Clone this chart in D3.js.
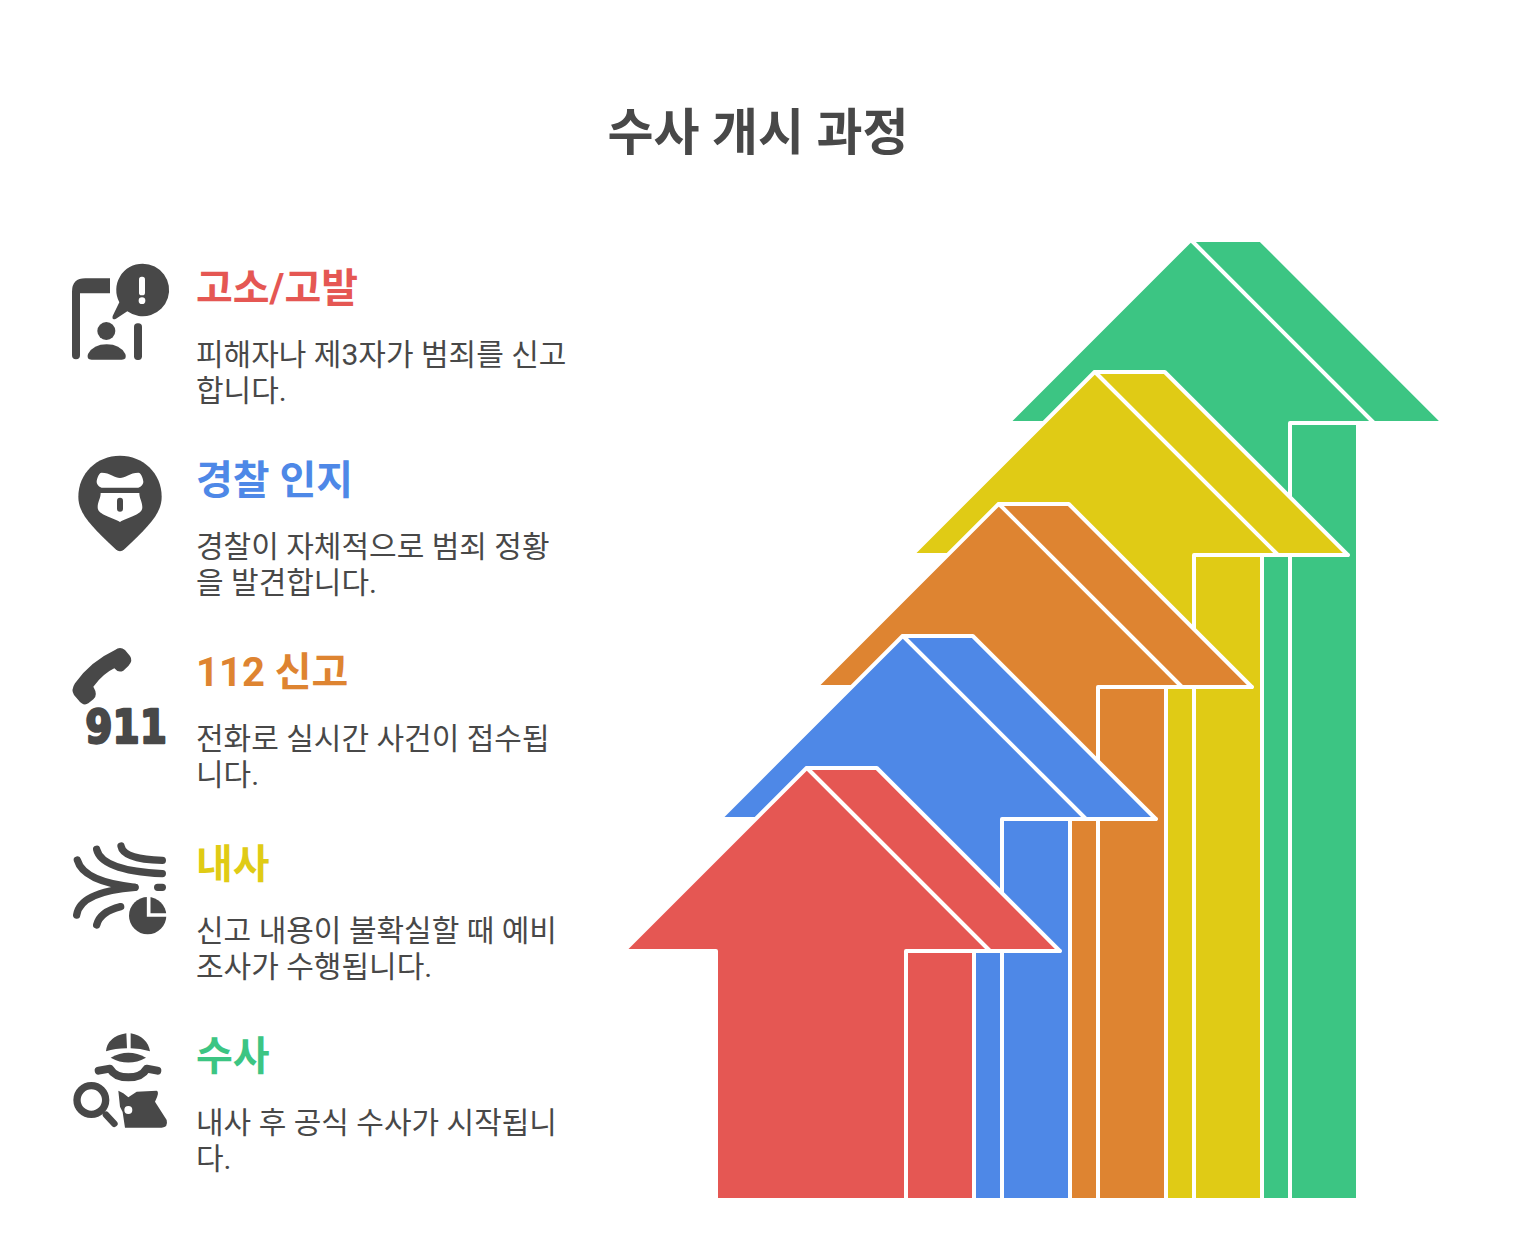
<!DOCTYPE html>
<meta charset="utf-8">
<style>
  html, body { margin: 0; background: #fff; }
  text { font-family: Roboto, "Noto Sans CJK KR", sans-serif; }
</style>
<script src="https://d3js.org/d3.v7.min.js"></script>
<div id="chart"></div>
<script>
const title = "수사 개시 과정"
const stages = ["고소/고발", "경찰 인지", "112 신고", "내사", "수사"]
const descriptions = [
    ["피해자나 제3자가 범죄를 신고", "합니다."],
    ["경찰이 자체적으로 범죄 정황", "을 발견합니다."],
    ["전화로 실시간 사건이 접수됩", "니다."],
    ["신고 내용이 불확실할 때 예비", "조사가 수행됩니다."],
    ["내사 후 공식 수사가 시작됩니", "다."]
]
const colors = ["#e55753", "#4e88e7", "#de8431", "#e0cb15", "#3cc583"]
const ink = "#484848"

const width = 1516
const height = 1241

const svg = d3.select("#chart").append("svg")
    .attr("width", width)
    .attr("height", height)
    .style("display", "block")

// each stage moves the arrow up and to the right by the same step
const order = d3.range(stages.length)
const stepX = d3.scaleLinear().domain([0, 4]).range([0, 384])
const stepY = d3.scaleLinear().domain([0, 4]).range([0, -528])
const rowY = d3.scaleLinear().domain([0, 4]).range([0, 768])

const line = d3.line()

// the shaft of every arrow runs down to the same baseline
const bottom = d => 1200 - stepY(d)

// outline of the front (red) arrow, the others are translated copies
const outline = d => [[806.6, 768], [876.8, 768], [1059.8, 951], [974, 951], [974, bottom(d)],
                      [716, bottom(d)], [716, 951], [623.6, 951]]
const fold = [[807, 768], [990, 951]]
const inner = d => [[1059.8, 951], [906, 951], [906, bottom(d)]]

const arrows = svg.append("g")
    .selectAll("g")
    .data(order.slice().reverse())
    .join("g")
    .attr("transform", d => `translate(${stepX(d)}, ${stepY(d)})`)
    .attr("stroke", "#fff")
    .attr("stroke-width", 4)
    .attr("stroke-linejoin", "round")
    .attr("stroke-linecap", "round")

arrows.append("path")
    .attr("d", d => line(outline(d)) + "Z")
    .attr("fill", d => colors[d])
arrows.append("path").attr("d", line(fold)).attr("fill", "none")
arrows.append("path").attr("d", d => line(inner(d))).attr("fill", "none")

// title
svg.append("text")
    .attr("x", 758)
    .attr("y", 150)
    .attr("text-anchor", "middle")
    .attr("font-size", 50)
    .attr("font-weight", 700)
    .attr("fill", ink)
    .text(title)

// text column
const rows = svg.append("g")
    .selectAll("g")
    .data(order)
    .join("g")
    .attr("transform", d => `translate(196, ${rowY(d)})`)

rows.append("text")
    .attr("y", 302)
    .attr("font-size", 40)
    .attr("font-weight", 700)
    .attr("fill", d => colors[d])
    .text(d => stages[d])

rows.selectAll(".desc")
    .data(d => descriptions[d])
    .join("text")
    .attr("class", "desc")
    .attr("y", (d, i) => 365 + i * 36)
    .attr("font-size", 30)
    .attr("fill", ink)
    .text(d => d)

// icons, drawn at 3x in their own coordinates
function icon(x, y) {
    return svg.append("g")
        .attr("transform", `translate(${x}, ${y}) scale(${1 / 3})`)
        .attr("fill", ink)
}

// complaint: frame, speech bubble, person
const i1 = icon(60, 250)
i1.append("path").attr("d", "M36,316 L36,125 Q36,85 76,85 L150,85 L150,130 L60,130 L60,316 Q60,328 48,328 Q36,328 36,316 Z")
i1.append("path").attr("d", "M248,41 A79,79 0 1 1 202,184 L168,206 Q155,212 158,198 L178,157 A79,79 0 0 1 248,41 Z")
    .attr("stroke", "#fff").attr("stroke-width", 12).attr("paint-order", "stroke")
i1.append("rect").attr("x", 237).attr("y", 80).attr("width", 18).attr("height", 56).attr("rx", 8).attr("fill", "#fff")
i1.append("circle").attr("cx", 246).attr("cy", 152).attr("r", 10).attr("fill", "#fff")
i1.append("circle").attr("cx", 139).attr("cy", 243).attr("r", 27)
i1.append("path").attr("d", "M95,329 Q78,329 84,312 Q100,283 140,283 Q180,283 196,312 Q202,329 185,329 Z")
i1.append("rect").attr("x", 222).attr("y", 220).attr("width", 24).attr("height", 110).attr("rx", 11)

// police badge in a map pin
const i2 = icon(60, 250)
i2.append("path").attr("d", "M180,617 C250,617 305,670 305,740 C305,790 270,825 193,898 Q180,910 167,898 C90,825 55,790 55,740 C55,670 110,617 180,617 Z")
i2.append("path").attr("fill", "#fff")
    .attr("d", "M125,668 C150,668 165,684 180,684 C195,684 210,668 235,668 C245,668 250,690 250,695 C250,705 240,713 232,713 L128,713 C120,713 110,705 110,695 C110,690 115,668 125,668 Z")
i2.append("path").attr("fill", "#fff")
    .attr("d", "M122,729 L238,729 C238,745 247,755 247,772 C247,795 205,800 180,816 C155,800 113,795 113,772 C113,755 122,745 122,729 Z")
i2.append("rect").attr("x", 171).attr("y", 743).attr("width", 18).attr("height", 42).attr("rx", 9)

// phone and number
const i3 = icon(60, 640)
i3.append("path").attr("d", "M165,30 Q180,18 195,30 L210,48 Q220,62 205,78 L190,92 Q175,100 163,85 Q130,100 100,140 Q115,165 100,178 L85,190 Q70,200 55,180 L42,165 Q32,150 45,130 Q90,65 165,30 Z")
i3.append("text")
    .attr("transform", "translate(76, 308) scale(2.55, 3)")
    .attr("font-size", 46)
    .attr("font-weight", 700)
    .style("font-family", "'DejaVu Sans'")
    .attr("stroke", ink)
    .attr("stroke-width", 2.4)
    .attr("stroke-linejoin", "round")
    .text("911")

// preliminary inquiry: converging lines and pie
const i4 = icon(60, 640)
const i4lines = i4.append("g").attr("fill", "none").attr("stroke", ink).attr("stroke-width", 22).attr("stroke-linecap", "round")
i4lines.append("path").attr("d", "M183,618 Q190,658 307,661")
i4lines.append("path").attr("d", "M110,628 Q125,692 307,701")
i4lines.append("path").attr("d", "M52,660 Q70,725 225,742")
i4lines.append("path").attr("d", "M50,825 Q60,755 225,742")
i4lines.append("path").attr("d", "M110,855 Q120,815 182,800")
i4lines.append("path").attr("d", "M293,742 L307,742")
i4.append("circle").attr("cx", 263).attr("cy", 827).attr("r", 56)
i4.append("path").attr("d", "M266,765 L266,825 L325,825").attr("fill", "none").attr("stroke", "#fff").attr("stroke-width", 11)

// investigator: cap, face, magnifier, body
const i5 = icon(60, 1020)
i5.append("path").attr("d", "M138,94 Q142,50 199,40 L201,85 Q165,85 138,94 Z")
i5.append("path").attr("d", "M212,40 Q262,50 270,94 Q240,85 212,85 Z")
i5.append("path").attr("d", "M152,113 Q205,84 258,113 Q205,142 152,113 Z")
i5.append("path").attr("d", "M116,152 L150,146 Q165,172 205,172 Q245,172 260,146 L292,152")
    .attr("fill", "none").attr("stroke", ink).attr("stroke-width", 24).attr("stroke-linecap", "round").attr("stroke-linejoin", "round")
i5.append("circle").attr("cx", 94).attr("cy", 240).attr("r", 43).attr("fill", "none").attr("stroke", ink).attr("stroke-width", 22)
i5.append("path").attr("d", "M138,284 L163,311").attr("stroke", ink).attr("stroke-width", 20).attr("stroke-linecap", "round")
i5.append("path").attr("d", "M175,212 L190,220 L205,232 L230,215 L290,212 Q300,215 285,245 L320,300 Q325,322 305,323 L195,323 L190,290 Q190,275 180,260 Z")
i5.append("circle").attr("cx", 205).attr("cy", 270).attr("r", 12).attr("fill", "#fff")
</script>
